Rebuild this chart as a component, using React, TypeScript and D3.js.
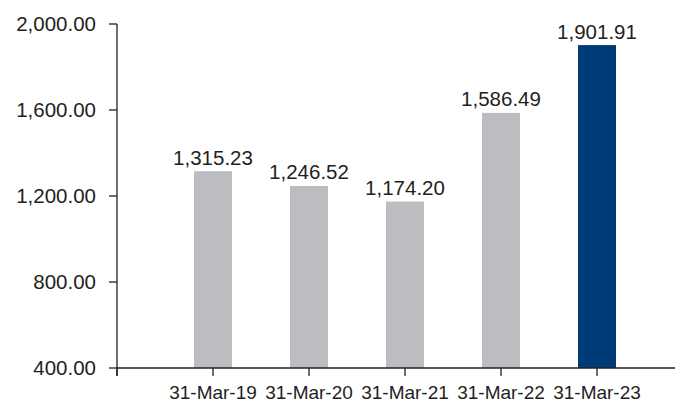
import React from "react";
import * as d3 from "d3";

const categories = ["31-Mar-19", "31-Mar-20", "31-Mar-21", "31-Mar-22", "31-Mar-23"];
const values = [1315.23, 1246.52, 1174.2, 1586.49, 1901.91];
const barColors = ["#bcbdc0", "#bcbdc0", "#bcbdc0", "#bcbdc0", "#003b79"];
const yTicks = [400, 800, 1200, 1600, 2000];

const W = 676;
const H = 402;
const axisX = 117;
const axisRight = 675;
const yTop = 24;
const yBottom = 368;
const barW = 38;
const font = "'Liberation Sans', Arial, Helvetica, sans-serif";
const textColor = "#231f20";

export default function App() {
  const y = d3.scaleLinear().domain([400, 2000]).range([yBottom, yTop]);
  const x = d3.scalePoint<string>().domain(["", ...categories]).range([axisX, 597]);
  const fmt = d3.format(",.2f");

  return (
    <svg width={W} height={H} style={{ position: "absolute", left: 0, top: 0 }}>
      {categories.map((c, i) => (
        <rect
          key={c}
          x={(x(c) as number) - barW / 2}
          y={y(values[i])}
          width={barW}
          height={yBottom - y(values[i])}
          fill={barColors[i]}
        />
      ))}
      {/* y axis */}
      <line x1={axisX} x2={axisX} y1={yTop} y2={yBottom + 8} stroke={textColor} strokeWidth={1.3} />
      {yTicks.map((t) => (
        <g key={t}>
          <line x1={axisX - 8} x2={axisX} y1={y(t)} y2={y(t)} stroke={textColor} strokeWidth={1.3} />
          <text
            x={96}
            y={y(t)}
            dy="0.36em"
            textAnchor="end"
            fontFamily={font}
            fontSize={20.5}
            fill={textColor}
          >
            {fmt(t)}
          </text>
        </g>
      ))}
      {/* x axis */}
      <line x1={axisX} x2={axisRight} y1={yBottom} y2={yBottom} stroke={textColor} strokeWidth={1.3} />
      {x.domain().map((c) => (
        <line
          key={"t" + c}
          x1={x(c) as number}
          x2={x(c) as number}
          y1={yBottom}
          y2={yBottom + 8}
          stroke={textColor}
          strokeWidth={1.3}
        />
      ))}
      {categories.map((c) => (
        <text
          key={"l" + c}
          x={x(c) as number}
          y={398.5}
          textAnchor="middle"
          fontFamily={font}
          fontSize={19}
          fill={textColor}
        >
          {c}
        </text>
      ))}
      {categories.map((c, i) => (
        <text
          key={"v" + c}
          x={x(c) as number}
          y={y(values[i]) - 6.5}
          textAnchor="middle"
          fontFamily={font}
          fontSize={20.5}
          fill={textColor}
        >
          {fmt(values[i])}
        </text>
      ))}
    </svg>
  );
}
